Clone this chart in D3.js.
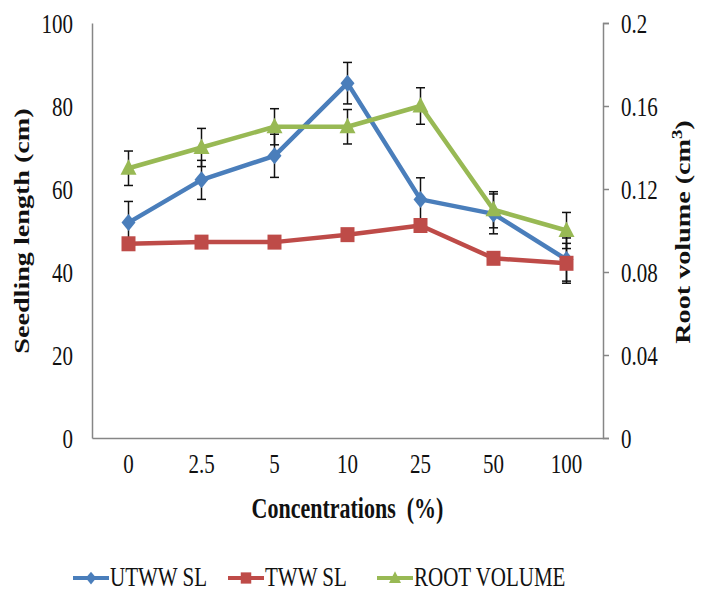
<!DOCTYPE html>
<html>
<head>
<meta charset="utf-8">
<script src="https://cdn.jsdelivr.net/npm/d3@7"></script>
<style>
  body { margin: 0; background: #fff; }
  svg { display: block; font-family: "Liberation Serif", "Times New Roman", serif; }
</style>
</head>
<body>
<svg></svg>
<script>
// data
let categories = ["0", "2.5", "5", "10", "25", "50", "100"]
let utwwSL = [51.9, 62.2, 68.0, 85.5, 57.5, 54.0, 43.0]
let utwwErr = [5.1, 4.7, 5.2, 5.0, 5.2, 4.8, 5.2]
let twwSL = [46.8, 47.2, 47.2, 49.0, 51.2, 43.3, 42.1]
let twwErr = [1.2, 1.2, 1.2, 1.2, 1.2, 1.2, 4.8]
let rootVolume = [0.13, 0.14, 0.15, 0.15, 0.16, 0.11, 0.10]
let rootErr = [0.0083, 0.0092, 0.0087, 0.0083, 0.0088, 0.0087, 0.0087]
let leftTicks = [0, 20, 40, 60, 80, 100]
let rightTicks = [0, 0.04, 0.08, 0.12, 0.16, 0.2]

let width = 709
let height = 592
let stretch = 1.34 // the picture is squashed taller than normal, so text is too

let plotLeft = 92, plotRight = 603, plotTop = 23, plotBottom = 438

let svg = d3.select('svg').attr('width', width).attr('height', height)

let xScale = d3.scaleBand().domain(categories).range([plotLeft, plotRight])
let yLeft = d3.scaleLinear().domain([0, 100]).range([plotBottom, plotTop])
let yRight = d3.scaleLinear().domain([0, 0.2]).range([plotBottom, plotTop])

let axisColor = '#868686'
let textColor = '#111'
let serif = '"Liberation Serif", "Times New Roman", serif'

// left axis - no tick marks, just the line
let gLeft = svg.append('g')
    .attr('transform', 'translate(' + plotLeft + ',0)')
    .call(d3.axisLeft(yLeft).tickValues(leftTicks).tickSize(0).tickPadding(19).tickFormat(d3.format('d')))
gLeft.select('.domain').attr('stroke', axisColor).attr('stroke-width', 1.5)
gLeft.selectAll('text').attr('font-size', 21).attr('fill', textColor)
    .attr('font-family', serif)
    .attr('transform', 'scale(1,' + stretch + ')')

// right axis
let gRight = svg.append('g')
    .attr('transform', 'translate(' + plotRight + ',0)')
    .call(d3.axisRight(yRight).tickValues(rightTicks).tickSize(6).tickSizeOuter(6).tickPadding(12).tickFormat(d => d === 0 ? '0' : String(+d.toFixed(2))))
gRight.select('.domain').attr('stroke', axisColor).attr('stroke-width', 1.5)
gRight.selectAll('line').attr('stroke', axisColor).attr('stroke-width', 1.5)
gRight.selectAll('text').attr('font-size', 21).attr('fill', textColor)
    .attr('font-family', serif)
    .attr('transform', 'scale(1,' + stretch + ')')

// bottom axis
let gBottom = svg.append('g')
    .attr('transform', 'translate(0,' + plotBottom + ')')
    .call(d3.axisBottom(xScale).tickSize(0).tickSizeOuter(0))
gBottom.select('.domain').attr('stroke', axisColor).attr('stroke-width', 1.5)
gBottom.selectAll('text').attr('font-size', 21).attr('fill', textColor)
    .attr('font-family', serif)
    .attr('y', 0).attr('dy', null)
    .attr('transform', 'translate(0,35) scale(1,' + stretch + ')')

// axis titles
svg.append('text')
    .attr('transform', 'translate(29,231) scale(1,' + stretch + ') rotate(-90)')
    .attr('text-anchor', 'middle').attr('font-size', 21).attr('font-weight', 'bold').attr('fill', textColor)
    .attr('font-family', serif)
    .text('Seedling length (cm)')

let rTitle = svg.append('text')
    .attr('transform', 'translate(690,232) scale(1,' + stretch + ') rotate(-90)')
    .attr('text-anchor', 'middle').attr('font-size', 21).attr('font-weight', 'bold').attr('fill', textColor)
    .attr('font-family', serif)
rTitle.append('tspan').text('Root volume (cm')
rTitle.append('tspan').attr('font-size', 14).attr('dy', -8).text('3')
rTitle.append('tspan').attr('dy', 8).text(')')

svg.append('text')
    .attr('transform', 'translate(' + ((plotLeft + plotRight) / 2) + ',518) scale(1,' + stretch + ')')
    .attr('text-anchor', 'middle').attr('font-size', 22).attr('font-weight', 'bold').attr('fill', textColor)
    .attr('font-family', serif)
    .style('white-space', 'pre')
    .text('Concentrations  (%)')

let cx = d => xScale(d) + xScale.bandwidth() / 2

let series = [
    { name: 'UTWW SL', values: utwwSL, err: utwwErr, y: yLeft, color: '#4A7EBB', shape: 'diamond' },
    { name: 'TWW SL', values: twwSL, err: twwErr, y: yLeft, color: '#BE4B48', shape: 'square' },
    { name: 'ROOT VOLUME', values: rootVolume, err: rootErr, y: yRight, color: '#98B954', shape: 'triangle' }
]

let markerPath = (shape) => {
    if (shape === 'diamond') return 'M0,-8.5L7,0L0,8.5L-7,0Z'
    if (shape === 'square') return 'M-7,-7.5H7V7.5H-7Z'
    return 'M0,-9L8,6.5L-8,6.5Z'
}

// lines
series.forEach(s => {
    let line = d3.line()
        .x((d, i) => cx(categories[i]))
        .y(d => s.y(d))
    svg.append('path')
        .datum(s.values)
        .attr('d', line)
        .attr('fill', 'none')
        .attr('stroke', s.color)
        .attr('stroke-width', 4.5)
        .attr('stroke-linejoin', 'round')
})

// error bars
series.forEach(s => {
    let g = svg.append('g').attr('stroke', '#111').attr('stroke-width', 1.5)
    s.values.forEach((v, i) => {
        let x = cx(categories[i])
        let y1 = s.y(v - s.err[i]), y2 = s.y(v + s.err[i])
        g.append('line').attr('x1', x).attr('x2', x).attr('y1', y1).attr('y2', y2)
        g.append('line').attr('x1', x - 4.5).attr('x2', x + 4.5).attr('y1', y1).attr('y2', y1)
        g.append('line').attr('x1', x - 4.5).attr('x2', x + 4.5).attr('y1', y2).attr('y2', y2)
    })
})

// markers
series.forEach(s => {
    svg.append('g').selectAll('path')
        .data(s.values)
        .join('path')
        .attr('d', markerPath(s.shape))
        .attr('transform', (d, i) => 'translate(' + cx(categories[i]) + ',' + s.y(d) + ')')
        .attr('fill', s.color)
})

// legend
let legendX = [73, 228, 377]
let legendY = 578
series.forEach((s, i) => {
    let g = svg.append('g').attr('transform', 'translate(' + legendX[i] + ',' + legendY + ')')
    g.append('line').attr('x1', 0).attr('x2', 36).attr('y1', 0).attr('y2', 0)
        .attr('stroke', s.color).attr('stroke-width', 4)
    g.append('path').attr('d', markerPath(s.shape)).attr('transform', 'translate(18,0) scale(0.75)').attr('fill', s.color)
    g.append('text').attr('transform', 'translate(37,8) scale(1,1.28)')
        .attr('font-size', 21).attr('fill', textColor)
        .attr('font-family', serif)
        .text(s.name)
})
</script>
</body>
</html>
